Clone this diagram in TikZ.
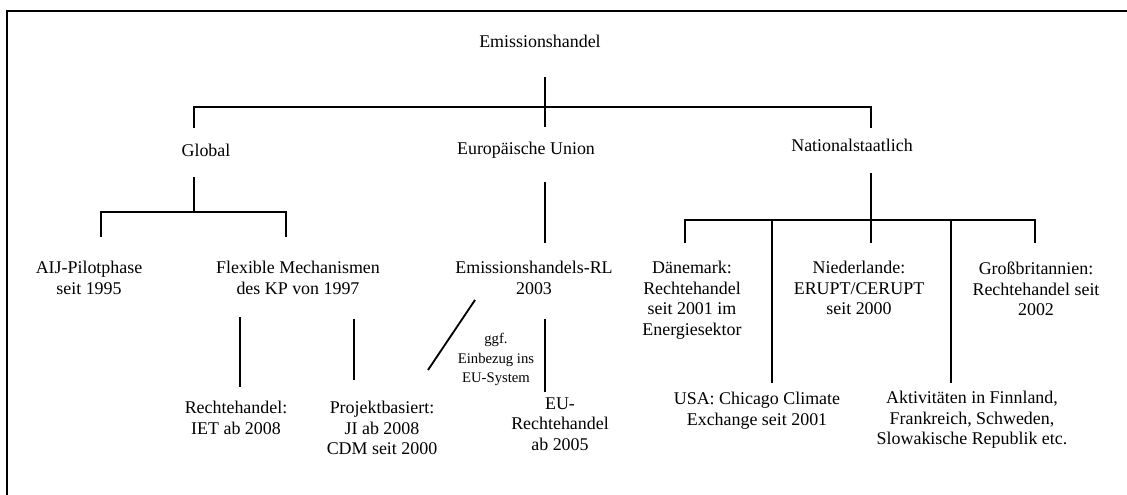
\documentclass[tikz,border=0pt]{standalone}
\usepackage{fontspec}
\setmainfont{Liberation Serif}
\usepackage{tikz}

\tikzset{
  lbl/.style={inner sep=0pt, anchor=north, align=center, font=\fontsize{10.75}{12.3}\selectfont},
  note/.style={lbl, font=\fontsize{8.8}{11.8}\selectfont},
  conn/.style={line width=1.1pt},
  frame/.style={line width=1.2pt}
}

\begin{document}
\begin{tikzpicture}[x=0.6pt,y=-0.6pt]
    \useasboundingbox (0,0) rectangle (1127,495);
    \draw[frame] (7,495) |- (1127,11);

    % levels 0 and 1
    \node[lbl] (root) at (540,35) {Emissionshandel};
    \node[lbl] (glob) at (206,144) {Global};
    \node[lbl] (eu) at (526,142) {Europäische Union};
    \node[lbl] (nat) at (852,139) {Nationalstaatlich};

    % level 2
    \node[lbl] (aij) at (89,261) {AIJ-Pilotphase\\seit 1995};
    \node[lbl] (flex) at (298,261) {Flexible Mechanismen\\des KP von 1997};
    \node[lbl] (rl) at (534,261) {Emissionshandels-RL\\2003};
    \node[lbl] (dk) at (692,261) {Dänemark:\\Rechtehandel\\seit 2001 im\\Energiesektor};
    \node[lbl] (nl) at (859,261) {Niederlande:\\ERUPT/CERUPT\\seit 2000};
    \node[lbl] (gb) at (1036,262) {Großbritannien:\\Rechtehandel seit\\2002};

    % level 3
    \node[lbl] (iet) at (236,401) {Rechtehandel:\\IET ab 2008};
    \node[lbl] (proj) at (382,401) {Projektbasiert:\\JI ab 2008\\CDM seit 2000};
    \node[lbl] (euh) at (560,397) {EU-\\Rechtehandel\\ab 2005};
    \node[lbl] (usa) at (757,392) {USA: Chicago Climate\\Exchange seit 2001};
    \node[lbl] (akt) at (972,391) {Aktivitäten in Finnland,\\Frankreich, Schweden,\\Slowakische Republik etc.};
    \node[note] (ggf) at (496,333) {ggf.\\Einbezug ins\\EU-System};

    % line ends
    \coordinate (root-out) at (545,77);
    \coordinate (top-bar) at (545,107);
    \coordinate (eu-in) at (545,127);
    \coordinate (glob-in) at (194,128);
    \coordinate (nat-in) at (871,128);
    \coordinate (glob-out) at (194,177);
    \coordinate (glob-bar) at (194,212);
    \coordinate (aij-in) at (101,237);
    \coordinate (flex-in) at (286,237);
    \coordinate (eu-out) at (545,182);
    \coordinate (rl-in) at (545,243);
    \coordinate (nat-out) at (871,173);
    \coordinate (nat-bar) at (871,220);
    \coordinate (dk-in) at (685,243);
    \coordinate (nl-in) at (871,243);
    \coordinate (gb-in) at (1035,243);
    \coordinate (usa-in) at (772,383);
    \coordinate (akt-in) at (951,383);
    \coordinate (flex-out1) at (240,317);
    \coordinate (iet-in) at (240,387);
    \coordinate (flex-out2) at (354,319);
    \coordinate (proj-in) at (354,380);
    \coordinate (rl-out1) at (475,300);
    \coordinate (proj-in2) at (428,370);
    \coordinate (rl-out2) at (545,319);
    \coordinate (euh-in) at (545,392);

    % connectors
    \draw[conn] (root-out) -- (eu-in);
    \draw[conn] (glob-in) |- (top-bar) -| (nat-in);
    \draw[conn] (glob-out) -- (glob-bar);
    \draw[conn] (aij-in) |- (glob-bar) -| (flex-in);
    \draw[conn] (eu-out) -- (rl-in);
    \draw[conn] (nat-out) -- (nl-in);
    \draw[conn] (dk-in) |- (nat-bar) -| (gb-in);
    \draw[conn] (usa-in) -- (usa-in |- nat-bar);
    \draw[conn] (akt-in) -- (akt-in |- nat-bar);
    \draw[conn] (flex-out1) -- (iet-in);
    \draw[conn] (flex-out2) -- (proj-in);
    \draw[conn] (rl-out1) -- (proj-in2);
    \draw[conn] (rl-out2) -- (euh-in);
\end{tikzpicture}
\end{document}
